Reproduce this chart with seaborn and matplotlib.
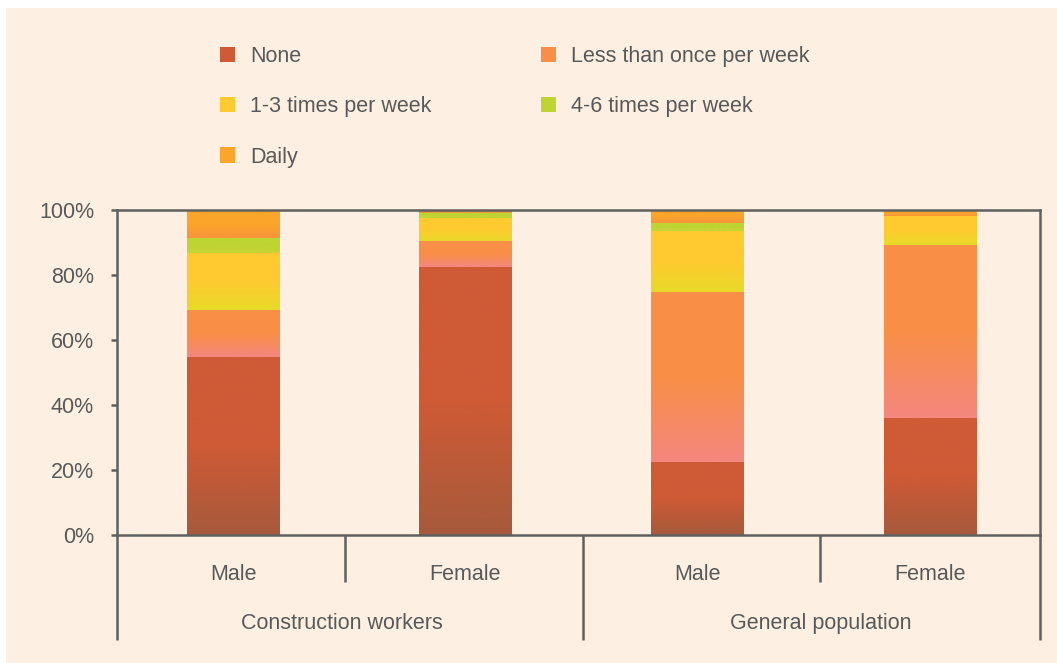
import numpy as np
import pandas as pd
import matplotlib
matplotlib.use("Agg")
import matplotlib.pyplot as plt
import matplotlib.transforms as mtransforms
from matplotlib.colors import LinearSegmentedColormap
from matplotlib.patches import Patch, Rectangle
import seaborn as sns

# data (percent of respondents)
groups = ["Construction workers", "General population"]
bar_ids = ["CW Male", "CW Female", "GP Male", "GP Female"]
bar_labels = ["Male", "Female", "Male", "Female"]
categories = ["None", "Less than once per week", "1-3 times per week",
              "4-6 times per week", "Daily"]
none_pct = [54.9, 82.5, 22.5, 36.0]
less_pct = [14.3, 8.0, 52.3, 53.2]
times_1_3_pct = [17.6, 7.1, 18.7, 9.0]
times_4_6_pct = [4.6, 1.4, 2.4, 0.0]
daily_pct = [8.6, 1.0, 4.1, 1.8]
y_ticks = [0, 20, 40, 60, 80, 100]

# gradient colours (bottom, top) for each category
grad_colors = {
    "None": ("#A65A3C", "#CF5A36"),
    "Less than once per week": ("#F4877F", "#F98F47"),
    "1-3 times per week": ("#E8DA28", "#FFCA30"),
    "4-6 times per week": ("#C6D436", "#BED433"),
    "Daily": ("#F8933B", "#FBA62A"),
}

cream = "#FDF0E2"
text_grey = "#595959"
line_grey = "#606060"
fs = 15.5

plt.rcParams["font.family"] = ["Liberation Sans", "DejaVu Sans"]

df = pd.DataFrame({"bar": bar_ids, "None": none_pct,
                   "Less than once per week": less_pct,
                   "1-3 times per week": times_1_3_pct,
                   "4-6 times per week": times_4_6_pct,
                   "Daily": daily_pct})
cum = df[categories].cumsum(axis=1)
cum["bar"] = bar_ids

W, H = 1057, 663
fig = plt.figure(figsize=(W / 100, H / 100), dpi=100)
fig.patch.set_facecolor("white")
fig.patches.append(Rectangle((6 / W, 0), 1, 1 - 8 / H, transform=fig.transFigure,
                             facecolor=cream, edgecolor="none", zorder=-5))
ax = fig.add_axes([117 / W, 1 - 535 / H, 923 / W, 325 / H])
ax.set_facecolor(cream)

grad = np.linspace(0, 1, 256).reshape(-1, 1)
prev = [0.0] * len(bar_ids)
for cat in categories:
    n_before = len(ax.patches)
    sns.barplot(data=cum, x="bar", y=cat, order=bar_ids, color=grad_colors[cat][1],
                width=0.4, linewidth=0, ax=ax)
    new_bars = ax.patches[n_before:]
    cmap = LinearSegmentedColormap.from_list(
        cat, [(0, grad_colors[cat][0]), (0.5, grad_colors[cat][1]), (1, grad_colors[cat][1])])
    for i, p in enumerate(new_bars):
        top = p.get_height()
        p.set_visible(False)
        if top - prev[i] > 0.05:
            x0 = p.get_x()
            ax.imshow(grad, cmap=cmap, origin="lower", aspect="auto",
                      extent=[x0, x0 + p.get_width(), prev[i], top],
                      zorder=2, interpolation="bilinear")
        prev[i] = top

x_right = 3.473
ax.set_xlim(-0.5, x_right)
ax.set_ylim(0, 100)
ax.set_xlabel("")
ax.set_ylabel("")
ax.set_yticks(y_ticks, [f"{t}%" for t in y_ticks])
ax.set_xticks(range(len(bar_ids)), bar_labels)
ax.tick_params(axis="y", direction="out", length=4.5, width=1.8, color=line_grey,
               labelcolor=text_grey, labelsize=fs, pad=12)
ax.tick_params(axis="x", length=0, labelcolor=text_grey, labelsize=fs, pad=21)
for s in ax.spines.values():
    s.set_color(line_grey)
    s.set_linewidth(1.8)
    s.set_zorder(3)

# category dividers below the axis
trans = mtransforms.blended_transform_factory(ax.transData, ax.transAxes)
for xd, depth in [(-0.5, -0.323), (0.48, -0.145), (1.505, -0.323), (2.525, -0.145),
                  (x_right, -0.323)]:
    ax.plot([xd, xd], [0, depth], transform=trans, clip_on=False,
            color=line_grey, lw=1.8, solid_capstyle="butt")
for gx, g in zip([0.47, 2.53], groups):
    ax.text(gx, -0.272, g, transform=trans, ha="center", va="center",
            fontsize=fs, color=text_grey)

# legend laid out row by row like the reference
handles = {c: Patch(facecolor=grad_colors[c][1], edgecolor="none") for c in categories}
order = ["None", "1-3 times per week", "Daily", "Less than once per week", "4-6 times per week"]
fig.legend([handles[c] for c in order], order, ncol=2, loc="upper left",
           bbox_to_anchor=(220 / W, 1 - 46 / H), frameon=False, fontsize=fs,
           handlelength=0.7, handleheight=0.7, handletextpad=0.7,
           columnspacing=5.1, labelspacing=1.36, borderpad=0, borderaxespad=0,
           labelcolor=text_grey)

fig.savefig("out.png", dpi=100, facecolor=fig.get_facecolor())
